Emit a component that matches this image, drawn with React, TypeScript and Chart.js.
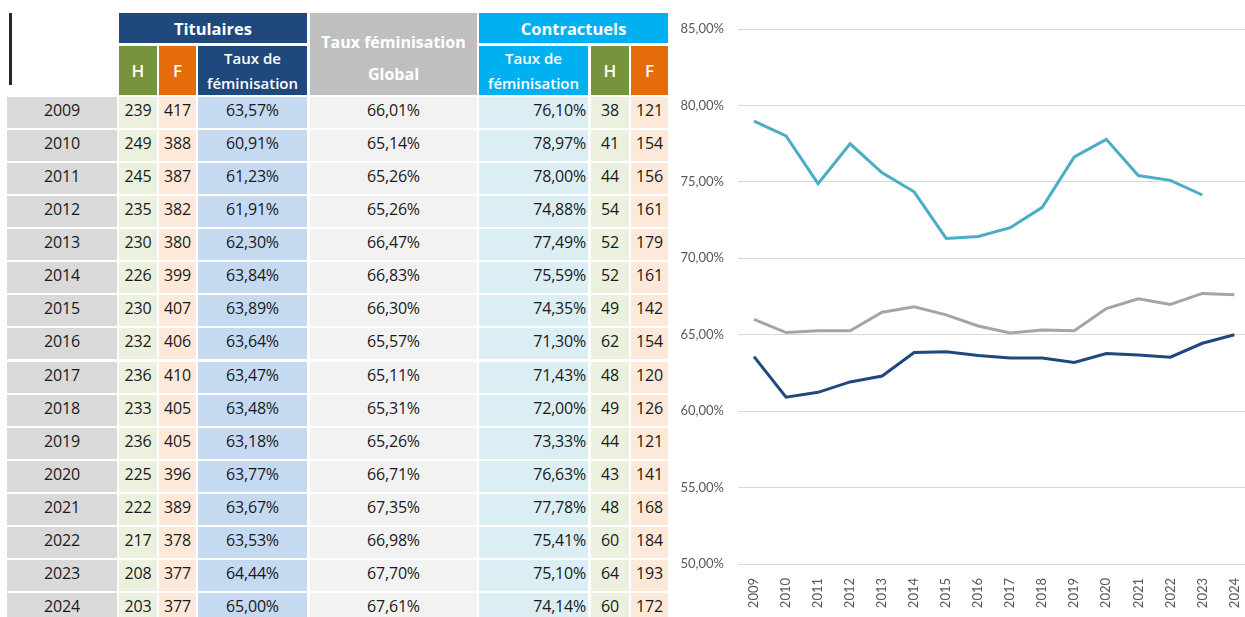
import React, { useEffect, useRef } from "react";
import { Chart, registerables } from "chart.js";

Chart.register(...registerables);

// ---------- DATA ----------
const years = ["2009", "2010", "2011", "2012", "2013", "2014", "2015", "2016", "2017", "2018", "2019", "2020", "2021", "2022", "2023", "2024"];
const titulairesH = [239, 249, 245, 235, 230, 226, 230, 232, 236, 233, 236, 225, 222, 217, 208, 203];
const titulairesF = [417, 388, 387, 382, 380, 399, 407, 406, 410, 405, 405, 396, 389, 378, 377, 377];
const titulairesTaux = [63.57, 60.91, 61.23, 61.91, 62.3, 63.84, 63.89, 63.64, 63.47, 63.48, 63.18, 63.77, 63.67, 63.53, 64.44, 65.0];
const globalTaux = [66.01, 65.14, 65.26, 65.26, 66.47, 66.83, 66.3, 65.57, 65.11, 65.31, 65.26, 66.71, 67.35, 66.98, 67.7, 67.61];
const contractuelsTaux = [76.1, 78.97, 78.0, 74.88, 77.49, 75.59, 74.35, 71.3, 71.43, 72.0, 73.33, 76.63, 77.78, 75.41, 75.1, 74.14];
const contractuelsH = [38, 41, 44, 54, 52, 52, 49, 62, 48, 49, 44, 43, 48, 60, 64, 60];
const contractuelsF = [121, 154, 156, 161, 179, 161, 142, 154, 120, 126, 121, 141, 168, 184, 193, 172];

// Series as drawn in the chart
const chartYears = years;
const chartTitulaires = [63.57, 60.91, 61.23, 61.91, 62.3, 63.84, 63.89, 63.64, 63.47, 63.48, 63.18, 63.77, 63.67, 63.53, 64.44, 65.0];
const chartGlobal = [66.01, 65.14, 65.26, 65.26, 66.47, 66.83, 66.3, 65.57, 65.11, 65.31, 65.26, 66.71, 67.35, 66.98, 67.7, 67.61];
const chartContractuels: (number | null)[] = [78.97, 78.0, 74.88, 77.49, 75.59, 74.35, 71.3, 71.43, 72.0, 73.33, 76.63, 77.78, 75.41, 75.1, 74.14, null];
const yMin = 50;
const yMax = 85;
const yStep = 5;

// ---------- HELPERS / LAYOUT ----------
const pct = (v: number) => v.toFixed(2).replace(".", ",") + "%";

const FONT = "'Open Sans', 'Noto Sans', sans-serif";
const DARK_BLUE = "#1f497d";
const GREEN = "#77933c";
const ORANGE = "#e46c0a";
const GREY = "#bfbfbf";
const CYAN = "#00b0f0";

const ROW_TOP = 97;
const ROW_STEP = 33.07;
const ROW_H = 31;

type Col = { left: number; width: number; bg: string; align: "center" | "right"; values: (string | number)[] };

const columns: Col[] = [
  { left: 7, width: 110, bg: "#d9d9d9", align: "center", values: years },
  { left: 119, width: 38, bg: "#ebf1de", align: "center", values: titulairesH },
  { left: 159, width: 37, bg: "#fde9d9", align: "center", values: titulairesF },
  { left: 198, width: 109, bg: "#c5d9f1", align: "center", values: titulairesTaux.map(pct) },
  { left: 310, width: 167, bg: "#f2f2f2", align: "center", values: globalTaux.map(pct) },
  { left: 479, width: 109, bg: "#daeef3", align: "right", values: contractuelsTaux.map(pct) },
  { left: 591, width: 38, bg: "#ebf1de", align: "center", values: contractuelsH },
  { left: 631, width: 37, bg: "#fde9d9", align: "center", values: contractuelsF },
];

function HeaderCell(props: { left: number; top: number; width: number; height: number; bg: string; children: React.ReactNode; style?: React.CSSProperties }) {
  return (
    <div
      style={{
        position: "absolute",
        left: props.left,
        top: props.top,
        width: props.width,
        height: props.height,
        background: props.bg,
        color: "#fff",
        fontFamily: FONT,
        fontWeight: 700,
        display: "flex",
        flexDirection: "column",
        alignItems: "center",
        justifyContent: "center",
        textAlign: "center",
        whiteSpace: "nowrap",
        ...props.style,
      }}
    >
      {props.children}
    </div>
  );
}

function Table() {
  return (
    <>
      <div style={{ position: "absolute", left: 9, top: 13, width: 3, height: 72, background: "#262626" }} />
      <HeaderCell left={119} top={13} width={188} height={30} bg={DARK_BLUE} style={{ fontSize: 16.5 }}>Titulaires</HeaderCell>
      <HeaderCell left={119} top={46} width={38} height={49} bg={GREEN} style={{ fontSize: 17, fontWeight: 600 }}>H</HeaderCell>
      <HeaderCell left={159} top={46} width={37} height={49} bg={ORANGE} style={{ fontSize: 17, fontWeight: 600 }}>F</HeaderCell>
      <HeaderCell left={198} top={46} width={109} height={49} bg={DARK_BLUE} style={{ fontSize: 15, fontWeight: 600, lineHeight: "25px" }}>
        <span>Taux de</span>
        <span>féminisation</span>
      </HeaderCell>
      <HeaderCell left={310} top={13} width={167} height={82} bg={GREY} style={{ fontSize: 16, lineHeight: "32px", paddingTop: 8, boxSizing: "border-box" }}>
        <span>Taux féminisation</span>
        <span>Global</span>
      </HeaderCell>
      <HeaderCell left={479} top={13} width={189} height={30} bg={CYAN} style={{ fontSize: 16.5 }}>Contractuels</HeaderCell>
      <HeaderCell left={479} top={46} width={109} height={49} bg={CYAN} style={{ fontSize: 15, fontWeight: 600, lineHeight: "25px" }}>
        <span>Taux de</span>
        <span>féminisation</span>
      </HeaderCell>
      <HeaderCell left={591} top={46} width={38} height={49} bg={GREEN} style={{ fontSize: 17, fontWeight: 600 }}>H</HeaderCell>
      <HeaderCell left={631} top={46} width={37} height={49} bg={ORANGE} style={{ fontSize: 17, fontWeight: 600 }}>F</HeaderCell>
      {columns.map((col, ci) =>
        col.values.map((v, ri) => (
          <div
            key={ci + "-" + ri}
            style={{
              position: "absolute",
              left: col.left,
              top: ROW_TOP + ri * ROW_STEP,
              width: col.width,
              height: ROW_H,
              background: col.bg,
              fontFamily: FONT,
              fontSize: 16,
              color: "#1a1a1a",
              lineHeight: ROW_H - 5 + "px",
              textAlign: col.align,
              paddingRight: col.align === "right" ? 2 : 0,
              boxSizing: "border-box",
              whiteSpace: "nowrap",
              letterSpacing: -0.2,
            }}
          >
            {String(v)}
          </div>
        ))
      )}
    </>
  );
}

function LineChart() {
  const ref = useRef<HTMLCanvasElement | null>(null);
  useEffect(() => {
    if (!ref.current) return;
    const chart = new Chart(ref.current, {
      type: "line",
      data: {
        labels: chartYears,
        datasets: [
          { label: "Contractuels", data: chartContractuels, borderColor: "#4bacc6", backgroundColor: "#4bacc6", borderWidth: 3, pointRadius: 0, tension: 0, spanGaps: false },
          { label: "Global", data: chartGlobal, borderColor: "#a5a5a5", backgroundColor: "#a5a5a5", borderWidth: 3, pointRadius: 0, tension: 0 },
          { label: "Titulaires", data: chartTitulaires, borderColor: "#1f497d", backgroundColor: "#1f497d", borderWidth: 3, pointRadius: 0, tension: 0 },
        ],
      },
      options: {
        animation: false,
        responsive: false,
        maintainAspectRatio: false,
        layout: { padding: { top: 29, right: 0, left: 0, bottom: 0 } },
        plugins: { legend: { display: false }, tooltip: { enabled: false } },
        scales: {
          x: {
            offset: true,
            grid: { display: false },
            border: { display: false },
            ticks: { color: "#595959", font: { family: "Lato, 'Liberation Sans', sans-serif", size: 13 }, maxRotation: 90, minRotation: 90, autoSkip: false, padding: 6 },
            afterFit: (scale: any) => {
              scale.height = 53;
            },
          },
          y: {
            min: yMin,
            max: yMax,
            grid: { color: "#d9d9d9", lineWidth: 1, drawTicks: false },
            border: { display: false },
            ticks: {
              stepSize: yStep,
              color: "#595959",
              font: { family: "Lato, 'Liberation Sans', sans-serif", size: 13 },
              padding: 14,
              callback: (v: any) => pct(Number(v)),
            },
            afterFit: (scale: any) => {
              scale.width = 66;
            },
          },
        },
      },
    });
    return () => chart.destroy();
  }, []);
  return <canvas ref={ref} width={584} height={617} style={{ position: "absolute", left: 0, top: 0, width: 584, height: 617 }} />;
}

export default function App() {
  return (
    <div style={{ position: "fixed", left: 0, top: 0, width: 1245, height: 617, overflow: "hidden", background: "#fff" }}>
      <Table />
      <div style={{ position: "absolute", left: 672, top: 0, width: 573, height: 617, overflow: "hidden" }}>
        <LineChart />
      </div>
    </div>
  );
}
